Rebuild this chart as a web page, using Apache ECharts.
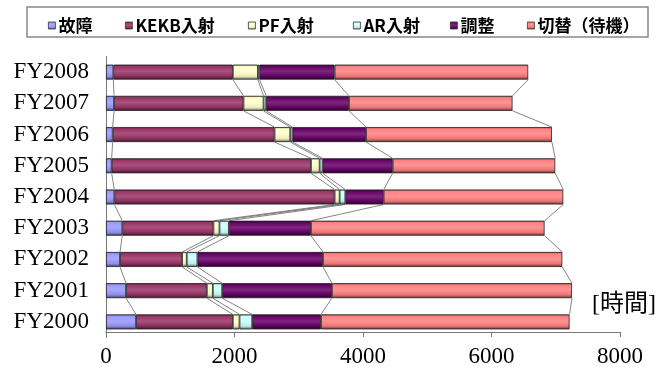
<!DOCTYPE html>
<html>
<head>
<meta charset="utf-8">
<script src="https://cdn.jsdelivr.net/npm/echarts@6/dist/echarts.min.js"></script>
<style>
  html, body { margin: 0; padding: 0; background: #fff; }
  #chart { width: 660px; height: 372px; }
</style>
</head>
<body>
<div id="chart"></div>
<script>
// categories, bottom to top
const categories = ['FY2000', 'FY2001', 'FY2002', 'FY2003', 'FY2004', 'FY2005', 'FY2006', 'FY2007', 'FY2008'];
// hours per category
const kosho   = [468, 312, 218, 254, 130, 88, 104, 125, 114];       // 故障
const kekb    = [1506, 1257, 966, 1418, 3428, 3102, 2519, 2015, 1860]; // KEKB入射
const pfInj   = [104, 94, 73, 94, 78, 135, 244, 312, 390];          // PF入射
const arInj   = [197, 145, 166, 146, 89, 46, 36, 41, 25];           // AR入射
const chosei  = [1071, 1708, 1954, 1278, 596, 1091, 1144, 1289, 1169]; // 調整
const kirikae = [3869, 3736, 3725, 3636, 2796, 2530, 2893, 2545, 3013]; // 切替（待機）
const xTicks = [0, 2000, 4000, 6000, 8000];

const seriesNames = ['故障', 'KEKB入射', 'PF入射', 'AR入射', '調整', '切替（待機）'];
const seriesData = [kosho, kekb, pfInj, arInj, chosei, kirikae];
const colors = ['#9999FF', '#993366', '#FFFFCC', '#CCFFFF', '#660066', '#FF8080'];
const legendLeft = [43, 120, 243, 348, 445, 522];
const BAR_W = 15;

function mix(hex, target, f) {
  const n = parseInt(hex.slice(1), 16);
  const r = (n >> 16) & 255, g = (n >> 8) & 255, b = n & 255;
  const m = (c) => Math.round(c + (target - c) * f);
  return 'rgb(' + m(r) + ',' + m(g) + ',' + m(b) + ')';
}

// fake cylinder shading
function cylinder(hex) {
  return new echarts.graphic.LinearGradient(0, 0, 0, 1, [
    { offset: 0, color: mix(hex, 0, 0.55) },
    { offset: 0.12, color: hex },
    { offset: 0.45, color: mix(hex, 255, 0.15) },
    { offset: 0.78, color: mix(hex, 0, 0.08) },
    { offset: 1, color: mix(hex, 0, 0.6) }
  ]);
}

var chart = echarts.init(document.getElementById('chart'));

var barSeries = seriesNames.map(function (name, k) {
  return {
    name: name,
    type: 'bar',
    stack: 'total',
    barWidth: BAR_W,
    data: seriesData[k],
    itemStyle: {
      color: cylinder(colors[k]),
      borderColor: '#222',
      borderWidth: 0.8
    },
    z: 3
  };
});

// series lines between neighbouring bars (like Excel)
var linkSeries = {
  type: 'custom',
  silent: true,
  z: 1,
  data: categories.slice(0, -1).map(function (c, i) { return [0, i]; }),
  encode: { x: 0, y: 1 },
  renderItem: function (params, api) {
    var i = params.dataIndex;
    var children = [];
    var a = 0, b = 0;
    for (var k = 0; k < seriesData.length; k++) {
      a += seriesData[k][i];
      b += seriesData[k][i + 1];
      var p1 = api.coord([a, i]);
      var p2 = api.coord([b, i + 1]);
      children.push({
        type: 'line',
        shape: { x1: p1[0], y1: p1[1] - BAR_W / 2, x2: p2[0], y2: p2[1] + BAR_W / 2 },
        style: { stroke: '#666', lineWidth: 0.8 }
      });
    }
    return { type: 'group', children: children };
  }
};

var option = {
  animation: false,
  backgroundColor: '#fff',
  legend: seriesNames.map(function (name, k) {
    return {
      data: [name],
      left: legendLeft[k],
      top: 12,
      itemWidth: 7,
      itemHeight: 7,
      itemGap: 0,
      icon: 'rect',
      itemStyle: { borderColor: '#333', borderWidth: 0.8 },
      textStyle: {
        fontFamily: '"Noto Sans CJK JP", sans-serif',
        fontWeight: 'bold',
        fontSize: 17,
        color: '#000',
        padding: [0, 0, 0, -2]
      }
    };
  }),
  graphic: [
    {
      type: 'rect',
      shape: { x: 27, y: 7, width: 621, height: 30 },
      style: { fill: 'none', stroke: '#888', lineWidth: 1.5 },
      silent: true
    },
    {
      type: 'text',
      left: 592,
      top: 293,
      style: {
        text: '[時間]',
        font: '24px "Liberation Serif", "Noto Sans CJK JP", serif',
        fill: '#000'
      }
    }
  ],
  grid: { left: 106, right: 40, top: 56.5, bottom: 34.5 },
  xAxis: {
    type: 'value',
    min: xTicks[0],
    max: xTicks[xTicks.length - 1],
    interval: 2000,
    offset: -5.5,
    axisLine: { show: true, lineStyle: { color: '#777', width: 1 } },
    axisTick: { show: true, length: 5, lineStyle: { color: '#777' } },
    splitLine: { show: false },
    axisLabel: {
      margin: 13,
      fontFamily: '"Liberation Serif", serif',
      fontSize: 23,
      color: '#000',
      formatter: function (v) { return String(v); }
    }
  },
  yAxis: {
    type: 'category',
    data: categories,
    axisLine: { show: true, lineStyle: { color: '#777', width: 1 } },
    axisTick: { show: false },
    axisLabel: {
      margin: 17,
      fontFamily: '"Liberation Serif", serif',
      fontSize: 23,
      color: '#000'
    }
  },
  series: barSeries.concat([linkSeries])
};

chart.setOption(option);
</script>
</body>
</html>
